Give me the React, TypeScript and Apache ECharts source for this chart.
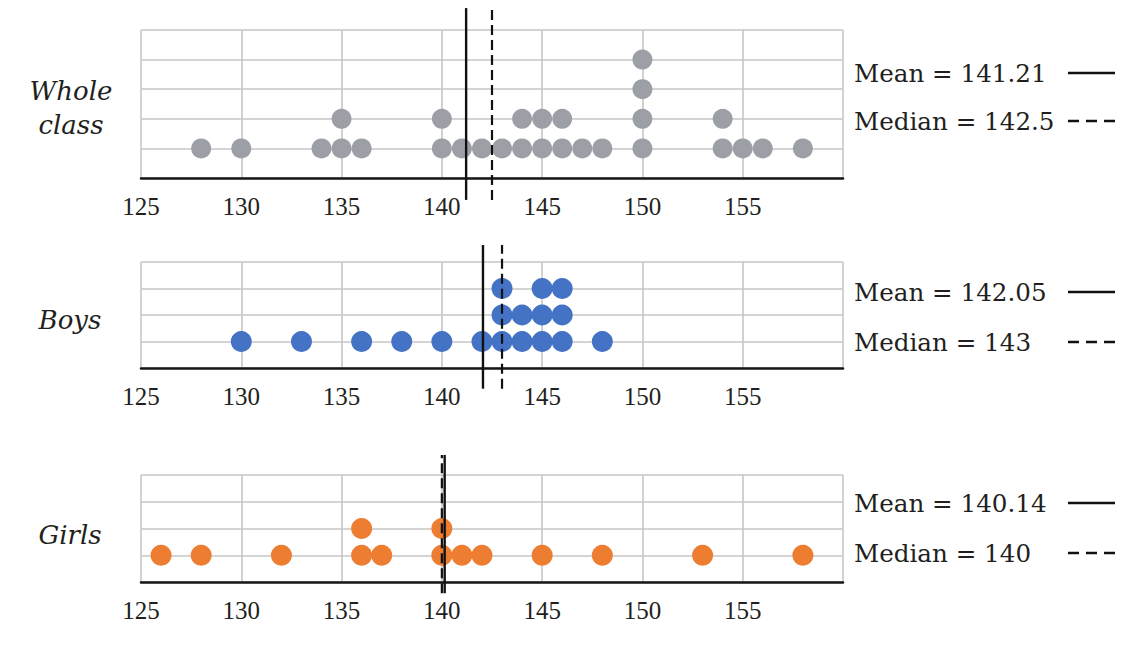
import React, { useEffect, useRef } from "react";
import * as echarts from "echarts";

// ---------- data ----------
const xTickLabels = ["125", "130", "135", "140", "145", "150", "155"];
const panelNames = ["Whole\nclass", "Boys", "Girls"];

const wholeClassHeights = [
  128, 130, 134, 135, 135, 136, 140, 140, 141, 142, 143, 144, 144, 145, 145,
  146, 146, 147, 148, 150, 150, 150, 150, 154, 154, 155, 156, 158,
];
const boysHeights = [
  130, 133, 136, 138, 140, 142, 143, 143, 143, 144, 144, 145, 145, 145, 146,
  146, 146, 148,
];
const girlsHeights = [
  126, 128, 132, 136, 136, 137, 140, 140, 141, 142, 145, 148, 153, 158,
];

const means = [141.21, 142.05, 140.14];
const medians = [142.5, 143, 140];

// ---------- layout / style ----------
const W = 1147;
const H = 646;
const gridLeft = 141;
const gridRight = W - 843;
const gridTops = [30, 262, 475];
const gridHeights = [148, 106, 107];
const yMaxes = [5, 4, 4];
const lineExtents = [
  [-0.74, 5.74],
  [-0.78, 4.64],
  [-0.42, 4.75],
];
const dotColors = ["#9ca0a6", "#4472c4", "#ed7d31"];
const dotSizes = [20, 21, 21];
const nameCenters = [
  [71, 108],
  [70, 320],
  [70, 535],
];
const legendRows = [
  [73, 121],
  [292, 342],
  [503, 553],
];
const textColor = "#231f20";
const gridColor = "#c6c6c6";

function stackDots(values: number[]): number[][] {
  const counts: Record<string, number> = {};
  return values.map((v) => {
    counts[v] = (counts[v] || 0) + 1;
    return [v, counts[v]];
  });
}

export default function App() {
  const ref = useRef<HTMLDivElement>(null);

  useEffect(() => {
    if (!ref.current) return;
    const chart = echarts.init(ref.current, null, { renderer: "svg" });
    const datasets = [wholeClassHeights, boysHeights, girlsHeights];

    const grids = gridTops.map((top, i) => ({
      left: gridLeft,
      right: gridRight,
      top,
      height: gridHeights[i],
      containLabel: false,
    }));

    const xAxes = gridTops.map((_, i) => ({
      type: "value",
      gridIndex: i,
      min: 125,
      max: 160,
      interval: 5,
      axisLine: { show: true, lineStyle: { color: "#161616", width: 2.5 } },
      axisTick: { show: false },
      splitLine: { show: true, lineStyle: { color: gridColor, width: 1.6 } },
      axisLabel: {
        show: true,
        margin: 16,
        fontFamily: "'Liberation Serif', 'Times New Roman', serif",
        fontSize: 25,
        color: textColor,
        formatter: (v: number) =>
          xTickLabels.indexOf(String(v)) >= 0 ? String(v) : "",
      },
    }));

    const yAxes = gridTops.map((_, i) => ({
      type: "value",
      gridIndex: i,
      min: 0,
      max: yMaxes[i],
      interval: 1,
      axisLine: { show: false },
      axisTick: { show: false },
      axisLabel: { show: false },
      splitLine: { show: true, lineStyle: { color: gridColor, width: 1.6 } },
    }));

    const series: any[] = [];
    datasets.forEach((vals, i) => {
      series.push({
        type: "scatter",
        xAxisIndex: i,
        yAxisIndex: i,
        data: stackDots(vals),
        symbol: "circle",
        symbolSize: dotSizes[i],
        itemStyle: { color: dotColors[i], opacity: 1 },
        silent: true,
        z: 3,
      });
      series.push({
        type: "line",
        xAxisIndex: i,
        yAxisIndex: i,
        data: [
          [means[i], lineExtents[i][0]],
          [means[i], lineExtents[i][1]],
        ],
        clip: false,
        symbol: "none",
        silent: true,
        lineStyle: { color: "#111", width: 2.4, type: "solid" },
        z: 4,
      });
      series.push({
        type: "line",
        xAxisIndex: i,
        yAxisIndex: i,
        data: [
          [medians[i], lineExtents[i][0]],
          [medians[i], lineExtents[i][1]],
        ],
        clip: false,
        symbol: "none",
        silent: true,
        lineStyle: { color: "#111", width: 2.2, type: [10, 5] },
        z: 4,
      });
    });

    const graphics: any[] = [];
    panelNames.forEach((name, i) => {
      graphics.push({
        type: "text",
        x: nameCenters[i][0],
        y: nameCenters[i][1],
        style: {
          text: name,
          fontFamily: "DejaVu Serif",
          fontStyle: "italic",
          fontSize: 26,
          lineHeight: 34,
          fill: textColor,
          align: "center",
          verticalAlign: "middle",
        },
      });
      const rows = legendRows[i];
      const labels = ["Mean = " + String(means[i]), "Median = " + String(medians[i])];
      labels.forEach((t, k) => {
        graphics.push({
          type: "text",
          x: 854,
          y: rows[k],
          style: {
            text: t,
            fontFamily: "DejaVu Serif",
            fontSize: 24.6,
            fill: textColor,
            align: "left",
            verticalAlign: "middle",
          },
        });
        graphics.push({
          type: "line",
          shape: { x1: 1068, y1: rows[k], x2: 1115, y2: rows[k] },
          style: {
            stroke: "#111",
            lineWidth: 2.4,
            lineDash: k === 0 ? null : [11, 7],
          },
        });
      });
    });

    chart.setOption({
      animation: false,
      backgroundColor: "#ffffff",
      grid: grids,
      xAxis: xAxes,
      yAxis: yAxes,
      series,
      graphic: graphics,
    });

    return () => chart.dispose();
  }, []);

  return (
    <div
      ref={ref}
      style={{ position: "fixed", left: 0, top: 0, width: W, height: H }}
    />
  );
}
